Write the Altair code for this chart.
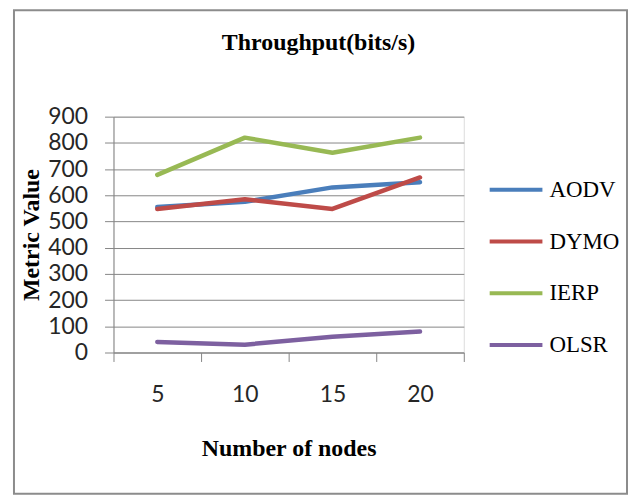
import altair as alt
import pandas as pd

nodes = ["5", "10", "15", "20"]
protocols = ["AODV", "DYMO", "IERP", "OLSR"]
aodv = [555, 575, 630, 650]
dymo = [548, 585, 548, 668]
ierp = [678, 820, 762, 820]
olsr = [40, 30, 60, 80]
colors = ["#4a7ebb", "#be4b48", "#98b954", "#7d60a0"]
y_ticks = [0, 100, 200, 300, 400, 500, 600, 700, 800, 900]
title_text = "Throughput(bits/s)"

rows = []
for name, vals in zip(protocols, [aodv, dymo, ierp, olsr]):
    for n, v in zip(nodes, vals):
        rows.append({"nodes": n, "value": v, "protocol": name})
df = pd.DataFrame(rows)

GRID = "#868686"
SERIF = "Liberation Serif"
SANS = "Lato"

lines = alt.Chart(df).mark_line(strokeWidth=4.5, strokeCap="round", strokeJoin="round").encode(
    x=alt.X(
        "nodes:O",
        sort=nodes,
        scale=alt.Scale(type="band", paddingInner=0, paddingOuter=0),
        bandPosition=0.5,
        axis=alt.Axis(
            title="Number of nodes",
            titleFont=SERIF, titleFontSize=24, titleFontWeight="bold", titleColor="#000000",
            titlePadding=30,
            labelFont=SANS, labelFontSize=23, labelColor="#262626", labelAngle=0,
            labelPadding=22,
            tickBand="extent", tickSize=9, tickColor=GRID, domainColor=GRID,
            grid=False,
        ),
    ),
    y=alt.Y(
        "value:Q",
        scale=alt.Scale(domain=[0, 900], nice=False),
        axis=alt.Axis(
            values=y_ticks,
            title="Metric Value",
            titleFont=SERIF, titleFontSize=24, titleFontWeight="bold", titleColor="#000000",
            titlePadding=4,
            labelFont=SANS, labelFontSize=23, labelColor="#262626",
            labelPadding=17,
            tickSize=9, tickColor=GRID, domainColor=GRID,
            grid=True, gridColor=GRID, gridWidth=1,
        ),
    ),
    color=alt.Color(
        "protocol:N",
        scale=alt.Scale(domain=protocols, range=colors),
        legend=alt.Legend(
            title=None, orient="none", legendX=376, legendY=45,
            symbolType="stroke", symbolSize=2809, symbolStrokeWidth=4,
            labelFont=SERIF, labelFontSize=23, labelColor="#000000",
            labelOffset=5, rowPadding=11,
        ),
    ),
)

frame = alt.Chart(alt.Data(values=[{"a": 1}])).mark_rect(
    fill="transparent", stroke="#8c8c8c", strokeWidth=2
).encode(
    x=alt.value(-100), x2=alt.value(516), y=alt.value(-107), y2=alt.value(379)
)

title = alt.Chart(alt.Data(values=[{"t": title_text}])).mark_text(
    font=SERIF, fontSize=24, fontWeight="bold", color="#000000",
    align="center", baseline="alphabetic",
).encode(
    text="t:N", x=alt.value(206), y=alt.value(-67)
)

chart = alt.layer(frame, title, lines).properties(
    width=352,
    height=237,
    autosize=alt.AutoSizeParams(type="none"),
    padding={"left": 106, "top": 108, "right": 166, "bottom": 144},
).configure_view(stroke=None).configure(background="white")

chart.save("out.html", embed_options={"renderer": "svg", "actions": False})
